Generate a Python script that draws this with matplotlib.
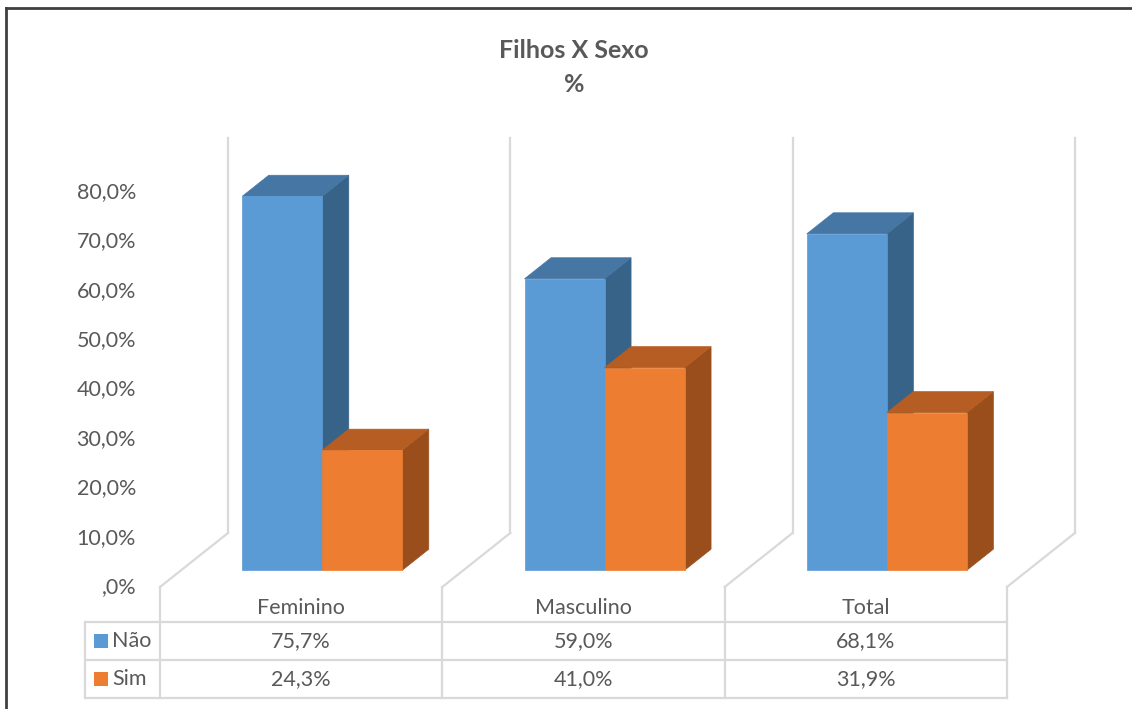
import matplotlib
matplotlib.use('Agg')
import matplotlib.pyplot as plt
from matplotlib.patches import Polygon, Rectangle

plt.rcParams['font.family'] = ['Lato', 'DejaVu Sans']

categories = ['Feminino', 'Masculino', 'Total']
series_names = ['Não', 'Sim']
nao = [75.7, 59.0, 68.1]
sim = [24.3, 41.0, 31.9]
table_text = [['75,7%', '59,0%', '68,1%'], ['24,3%', '41,0%', '31,9%']]
yticks = [0, 10, 20, 30, 40, 50, 60, 70, 80]
ytick_labels = [',0%', '10,0%', '20,0%', '30,0%', '40,0%', '50,0%', '60,0%', '70,0%', '80,0%']

front = ['#5B9BD5', '#ED7D31']
top = ['#4676A3', '#B55D22']
side = ['#386389', '#9A4E1C']
grid_c = '#D9D9D9'
text_c = '#595959'
FS = 15.5

W, H = 1132, 709
# pixel layout of the front floor plane
X0, CAT_W = 160.0, 282.3
Y0, PX_PER = 587.0, 4.94

fig = plt.figure(figsize=(W / 100, H / 100), dpi=100)
ax = fig.add_axes([0, 0, 1, 1])
ax.set_xlim(-X0 / CAT_W, (W - X0) / CAT_W)
ax.set_ylim((Y0 - H) / PX_PER, Y0 / PX_PER)
ax.axis('off')

# depth vector (full floor depth) in data units
DX = 68 / CAT_W
DY = 54 / PX_PER
D_FRONT, D_BACK = 0.31, 0.70
BAR_W = 80 / CAT_W


def proj(x, y, d):
    return (x + d * DX, y + d * DY)


# back walls and floor lines
n = len(categories)
for k in range(n + 1):
    bx, by = proj(k, 0, 1)
    tx, ty = proj(k, 80, 1)
    ax.plot([bx, tx], [by, ty], color=grid_c, lw=1.6, zorder=1)
    ax.plot([k, bx], [0, by], color=grid_c, lw=1.6, zorder=1)


def bar3d(xl, w, h, i):
    d0, d1 = D_FRONT, D_BACK
    f = [proj(xl, 0, d0), proj(xl + w, 0, d0), proj(xl + w, h, d0), proj(xl, h, d0)]
    t = [proj(xl, h, d0), proj(xl + w, h, d0), proj(xl + w, h, d1), proj(xl, h, d1)]
    s = [proj(xl + w, 0, d0), proj(xl + w, 0, d1), proj(xl + w, h, d1), proj(xl + w, h, d0)]
    for pts, c in ((s, side[i]), (t, top[i]), (f, front[i])):
        ax.add_patch(Polygon(pts, closed=True, facecolor=c, edgecolor=c, lw=0.5, zorder=3))


for j in range(n):
    center = j + 0.5
    bar3d(center - BAR_W, BAR_W, nao[j], 0)
    bar3d(center, BAR_W, sim[j], 1)

# y tick labels
for v, lab in zip(yticks, ytick_labels):
    ax.text(-0.085, v, lab, ha='right', va='center', fontsize=FS, color=text_c)

# data table
def py(p):
    return (Y0 - p) / PX_PER

r_top, r_mid, r_bot = py(622), py(660), py(698)
leg_l = (85 - X0) / CAT_W
for k in range(n + 1):
    ax.plot([k, k], [0, r_bot], color=grid_c, lw=1.6, zorder=1)
ax.plot([leg_l, leg_l], [r_top, r_bot], color=grid_c, lw=1.6)
for yy in (r_top, r_mid, r_bot):
    ax.plot([leg_l, n], [yy, yy], color=grid_c, lw=1.6)

for j, cat in enumerate(categories):
    ax.text(j + 0.5, py(608), cat, ha='center', va='center', fontsize=FS, color=text_c)
    for r in range(2):
        yc = (r_top + r_mid) / 2 if r == 0 else (r_mid + r_bot) / 2
        ax.text(j + 0.5, yc, table_text[r][j], ha='center', va='center', fontsize=FS, color=text_c)

for r, name in enumerate(series_names):
    yc = (r_top + r_mid) / 2 if r == 0 else (r_mid + r_bot) / 2
    kx = (94 - X0) / CAT_W
    kw = 14 / CAT_W
    kh = 14 / PX_PER
    ax.add_patch(Rectangle((kx, yc - kh / 2), kw, kh, facecolor=front[r], edgecolor='none'))
    ax.text((112 - X0) / CAT_W, yc, name, ha='left', va='center', fontsize=FS, color=text_c)

# title
ax.text((574 - X0) / CAT_W, py(50), 'Filhos X Sexo', ha='center', va='center',
        fontsize=18, fontweight='bold', color=text_c)
ax.text((574 - X0) / CAT_W, py(84), '%', ha='center', va='center',
        fontsize=18, fontweight='bold', color=text_c)

# outer frame (left and top edges)
ax.plot([(6 - X0) / CAT_W, (6 - X0) / CAT_W], [py(8), py(H)], color='#404040', lw=2)
ax.plot([(6 - X0) / CAT_W, (W - X0) / CAT_W], [py(8), py(8)], color='#404040', lw=2)

fig.savefig('out.png', dpi=100)
